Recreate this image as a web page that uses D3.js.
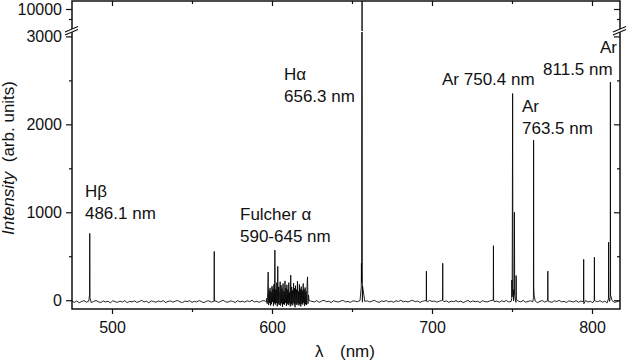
<!DOCTYPE html>
<html>
<head>
<meta charset="utf-8">
<script src="https://cdn.jsdelivr.net/npm/d3@7"></script>
<style>
  body { margin: 0; background: #fff; }
  svg { font-family: "Liberation Sans", Arial, sans-serif; }
</style>
</head>
<body>
<svg width="627" height="360"></svg>
<script>
// baseline noise, one value every 1.5 nm starting at 475 nm
const baseStart = 475, baseStep = 1.5;
const baseNoise = [
  -12,-25,-8,-30,-15,-5,-22,-10,-28,-14,-3,-18,-26,-9,-20,-12,-30,-6,-17,-24,
  -10,-21,-4,-27,-13,-19,-8,-25,-15,-2,-20,-11,-29,-7,-16,-23,-9,-18,-5,-26,
  -14,-8,-22,-12,-3,-19,-27,-10,-16,-6,-24,-13,-20,-4,-17,-28,-11,-7,-21,-15,
  -9,-25,-12,-2,-18,-23,-8,-14,-26,-5,-19,-11,-22,-7,-16,-1,-20,-13,-24,-10,
  -4,-17,-27,-12,-6,-21,-15,-3,-19,-9,-25,-14,-8,-22,-11,-18,-2,-16,-23,-7,
  -13,-20,-5,-24,-10,-1,-18,-12,-26,-6,-15,-21,-9,-3,-19,-14,-25,-8,-11,-17,
  -4,-22,-13,-7,-20,-10,-2,-16,-24,-9,-14,-5,-19,-11,-23,-6,-15,-1,-18,-12,
  -21,-8,-3,-17,-10,-25,-13,-6,-20,-2,-15,-9,-22,-12,-4,-18,-7,-24,-11,-16,
  -5,-19,-10,-27,-14,-3,-21,-8,-17,-12,-26,-6,-15,-20,-9,-2,-18,-11,-23,-7,
  -16,-4,-20,-13,-8,-25,-11,-18,-3,-22,-14,-6,-19,-10,-28,-12,-5,-21,-9,-17,
  -24,-7,-15,-2,-19,-12,-26,-8,-14,-20,-5,-23,-10,-17,-3,-21,-13,-28,-9,-16,
  -6,-22,-11,-30,-14,-4,-25,-18,-8
];

// Fulcher alpha band, one value every 0.3 nm starting at 596.7 nm
const fulcherStart = 596.7, fulcherStep = 0.3;
const fulcherBand = [
  20,-40,90,320,-55,110,-30,140,-60,95,
  -45,160,-20,130,-65,180,-35,570,-50,120,
  -30,200,-70,385,-40,150,-55,110,210,-60,
  170,-35,130,-75,190,-45,100,-50,220,-30,
  140,-65,175,-40,120,-55,200,-35,90,-70,
  285,-45,150,-60,110,-30,195,-50,135,-80,
  165,-40,120,-55,215,-35,100,-60,180,-45,
  130,-70,155,-40,110,-50,190,-30,125,-65,
  145,-45,100,-55,170,265,-40,60,10
];

// emission lines with their narrow feet [wavelength nm, intensity]
const emissionLines = [
  [485.95, 60], [486.1, 760], [486.25, 30],
  [563.8, -5], [563.9, 555], [564.0, -10],
  [655.8, 150], [655.9, 420], [656.0, 200], [656.3, 10600], [656.45, 380], [656.6, 160],
  [696.4, -5], [696.5, 330], [696.6, -10],
  [706.6, 0], [706.7, 420], [706.8, -5],
  [738.3, 0], [738.4, 620], [738.5, 10],
  [749.8, 20], [749.9, 230], [750.1, 40], [750.4, 2350], [750.6, 90], [751.0, 120],
  [751.3, 60], [751.5, 1000], [751.7, 40], [752.5, 20], [752.6, 280], [752.7, 10],
  [763.4, 30], [763.5, 1820], [763.6, 150], [763.8, 60],
  [772.3, -5], [772.4, 330], [772.5, -10],
  [794.7, -10], [794.8, 465], [794.9, -40],
  [801.4, 0], [801.5, 490], [801.6, -5],
  [810.3, 20], [810.4, 660], [810.5, 30], [811.4, 40], [811.5, 2480], [811.6, 60]
];

const xMajor = [500, 600, 700, 800];
const xMinor = [550, 650, 750];
const yLowMajor = [0, 1000, 2000, 3000];
const yLowMinor = [500, 1500, 2500];
const yHighMajor = [10000];
const yHighMinor = [9500];

const svg = d3.select('svg');
const plotLeft = 72, plotRight = 620, plotTop = 1, plotBottom = 309;
const ink = '#111';

const x = d3.scaleLinear().domain([475, 817.5]).range([plotLeft, plotRight]);
const yLow = d3.scaleLinear().domain([-100, 3050]).range([plotBottom, 32]);
const yHigh = d3.scaleLinear().domain([8900, 10400]).range([31, plotTop]);

// put the spectrum together
const fulcherEnd = fulcherStart + (fulcherBand.length - 1) * fulcherStep;
let spectrum = baseNoise
  .map((v, i) => [baseStart + i * baseStep, v])
  .filter((d) => d[0] < fulcherStart || d[0] > fulcherEnd);
fulcherBand.forEach((v, i) => spectrum.push([fulcherStart + i * fulcherStep, v]));
emissionLines.forEach((d) => spectrum.push(d));
spectrum.sort((a, b) => a[0] - b[0]);

const defs = svg.append('defs');
defs.append('clipPath').attr('id', 'clipLow')
  .append('rect').attr('x', plotLeft).attr('y', 32)
  .attr('width', plotRight - plotLeft).attr('height', plotBottom - 32);
defs.append('clipPath').attr('id', 'clipHigh')
  .append('rect').attr('x', plotLeft).attr('y', plotTop)
  .attr('width', plotRight - plotLeft).attr('height', 31 - plotTop);

[[yLow, 'clipLow'], [yHigh, 'clipHigh']].forEach(([yScale, clip]) => {
  svg.append('path')
    .datum(spectrum)
    .attr('clip-path', `url(#${clip})`)
    .attr('fill', 'none')
    .attr('stroke', '#000')
    .attr('stroke-width', 0.85)
    .attr('d', d3.line().x((d) => x(d[0])).y((d) => yScale(d[1])));
});

// axes
function drawAxis(axis, tx, ty) {
  const g = svg.append('g').attr('transform', `translate(${tx},${ty})`).call(axis);
  g.select('.domain').remove();
  g.selectAll('line').attr('stroke', ink).attr('stroke-width', 1.2);
  g.selectAll('text').attr('fill', ink).style('font-size', '16px');
  return g;
}
const fmt = d3.format('d');
// bottom
drawAxis(d3.axisBottom(x).tickValues(xMajor).tickSize(5).tickPadding(8).tickFormat(fmt), 0, plotBottom);
drawAxis(d3.axisBottom(x).tickValues(xMinor).tickSize(3).tickFormat(''), 0, plotBottom);
// top (inward)
drawAxis(d3.axisBottom(x).tickValues(xMajor).tickSize(5).tickFormat(''), 0, plotTop);
drawAxis(d3.axisBottom(x).tickValues(xMinor).tickSize(3).tickFormat(''), 0, plotTop);
// left and right
[[yLow, yLowMajor, yLowMinor], [yHigh, yHighMajor, yHighMinor]].forEach(([ys, major, minor]) => {
  drawAxis(d3.axisLeft(ys).tickValues(major).tickSize(6).tickPadding(4).tickFormat(fmt), plotLeft, 0);
  drawAxis(d3.axisLeft(ys).tickValues(minor).tickSize(3).tickFormat(''), plotLeft, 0);
  drawAxis(d3.axisLeft(ys).tickValues(major).tickSize(6).tickFormat(''), plotRight, 0);
  drawAxis(d3.axisLeft(ys).tickValues(minor).tickSize(3).tickFormat(''), plotRight, 0);
});

// frame
svg.append('rect')
  .attr('x', plotLeft).attr('y', plotTop)
  .attr('width', plotRight - plotLeft).attr('height', plotBottom - plotTop)
  .attr('fill', 'none').attr('stroke', ink).attr('stroke-width', 1.5);

// axis breaks
[plotLeft, plotRight].forEach((ax) => {
  svg.append('path')
    .attr('d', `M${ax - 7},35 L${ax + 6},29.5 L${ax + 6},26.5 L${ax - 7},32 Z`)
    .attr('fill', '#fff');
  [32, 35].forEach((yy) => {
    svg.append('line')
      .attr('x1', ax - 7).attr('y1', yy)
      .attr('x2', ax + 6).attr('y2', yy - 5.5)
      .attr('stroke', ink).attr('stroke-width', 1.2);
  });
});

// axis titles
const yTitle = svg.append('text')
  .attr('transform', 'translate(14,158) rotate(-90)')
  .attr('text-anchor', 'middle')
  .style('font-size', '17px')
  .attr('fill', ink);
yTitle.append('tspan').style('font-style', 'italic').text('Intensity');
yTitle.append('tspan').text('\u00a0 (arb. units)');

svg.append('text').attr('x', 315).attr('y', 357).style('font-size', '17px').attr('fill', ink).text('λ');
svg.append('text').attr('x', 340).attr('y', 357).style('font-size', '17px').attr('fill', ink).text('(nm)');

// peak labels, anchored in data units on the lower panel
const annotations = [
  { text: 'Hβ', nm: 483.1, value: 1174, anchor: 'start' },
  { text: '486.1 nm', nm: 483.1, value: 924, anchor: 'start' },
  { text: 'Fulcher α', nm: 580, value: 912, anchor: 'start' },
  { text: '590-645 nm', nm: 580, value: 662, anchor: 'start' },
  { text: 'Hα', nm: 607.5, value: 2504, anchor: 'start' },
  { text: '656.3 nm', nm: 607.5, value: 2254, anchor: 'start' },
  { text: 'Ar 750.4 nm', nm: 706.25, value: 2447, anchor: 'start' },
  { text: 'Ar', nm: 756.25, value: 2140, anchor: 'start' },
  { text: '763.5 nm', nm: 756.25, value: 1890, anchor: 'start' },
  { text: 'Ar', nm: 815.6, value: 2811, anchor: 'end' },
  { text: '811.5 nm', nm: 769.4, value: 2561, anchor: 'start' }
];
svg.selectAll('text.note')
  .data(annotations)
  .join('text')
  .attr('class', 'note')
  .attr('x', (d) => x(d.nm))
  .attr('y', (d) => yLow(d.value))
  .attr('text-anchor', (d) => d.anchor)
  .style('font-size', '17px')
  .attr('fill', ink)
  .text((d) => d.text);
</script>
</body>
</html>
